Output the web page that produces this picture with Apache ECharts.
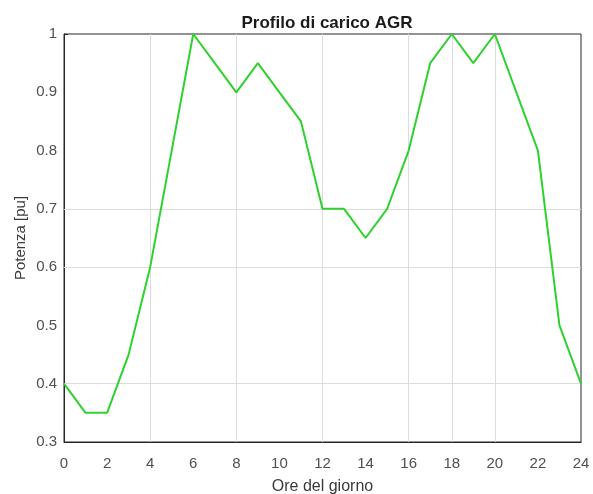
<!DOCTYPE html>
<html>
<head>
<meta charset="utf-8">
<script src="https://cdn.jsdelivr.net/npm/echarts@6/dist/echarts.min.js"></script>
<style>html,body{margin:0;padding:0;background:#fff;}#c{width:593px;height:494px;}</style>
</head>
<body>
<div id="c"></div>
<script>
const hours = [0,1,2,3,4,5,6,7,8,9,10,11,12,13,14,15,16,17,18,19,20,21,22,23,24];
const potenza = [0.4,0.35,0.35,0.45,0.6,0.8,1.0,0.95,0.9,0.95,0.9,0.85,0.7,0.7,0.65,0.7,0.8,0.95,1.0,0.95,1.0,0.9,0.8,0.5,0.4];
const xGridValues = [4,8,12,16,18,20];
const yGridValues = [0.4,0.6,0.7];
const xTickValues = [4,8,12,16,18,20];
const yTickValues = [0.6,0.7,1];

const FONT = 'Liberation Sans, Arial, sans-serif';
const chart = echarts.init(document.getElementById('c'), null, {renderer:'canvas'});
const labelStyle = {color:'#505050', fontSize:15, fontFamily:FONT};
const gridLine = {color:'#dcdcdc', width:1, type:'solid'};
chart.setOption({
  animation:false,
  backgroundColor:'#fff',
  title:{text:'Profilo di carico AGR', left:322, top:10, textAlign:'center',
    textStyle:{fontSize:17, fontWeight:'bold', color:'#1a1a1a', fontFamily:FONT}},
  grid:{left:64, right:12, top:34, bottom:52, show:true, borderColor:'#262626', borderWidth:1,
    containLabel:false, outerBoundsMode:'none'},
  xAxis:[{
    type:'value', min:0, max:24, interval:2,
    name:'Ore del giorno', nameLocation:'middle', nameGap:37, nameMoveOverlap:false,
    nameTextStyle:{color:'#3a3a3a', fontSize:16, fontFamily:FONT},
    axisLine:{show:true, onZero:false, lineStyle:{color:'#262626'}},
    axisTick:{show:true, inside:true, length:4, customValues:xTickValues, lineStyle:{color:'#262626'}},
    axisLabel:Object.assign({margin:14}, labelStyle),
    splitLine:{show:false}
  }],
  yAxis:[{
    type:'value', min:0.3, max:1, interval:0.1,
    name:'Potenza [pu]', nameLocation:'middle', nameGap:36, nameRotate:90, nameMoveOverlap:false,
    nameTextStyle:{color:'#3a3a3a', fontSize:15, fontFamily:FONT},
    axisLine:{show:true, onZero:false, lineStyle:{color:'#262626'}},
    axisTick:{show:true, inside:true, length:4, customValues:yTickValues, lineStyle:{color:'#262626'}},
    axisLabel:Object.assign({margin:7, formatter:function(v){return String(+v.toFixed(1));}}, labelStyle),
    splitLine:{show:false}
  }],
  series:[{
    type:'line',
    data:hours.map((h,i)=>[h,potenza[i]]),
    showSymbol:false,
    lineStyle:{color:'#2fd12f', width:2},
    itemStyle:{color:'#2fd12f'},
    z:3,
    markLine:{
      silent:true, symbol:'none', label:{show:false}, lineStyle:gridLine, z:1,
      data: xGridValues.map(v=>({xAxis:v})).concat(yGridValues.map(v=>({yAxis:v})))
    }
  }]
});
</script>
</body>
</html>
